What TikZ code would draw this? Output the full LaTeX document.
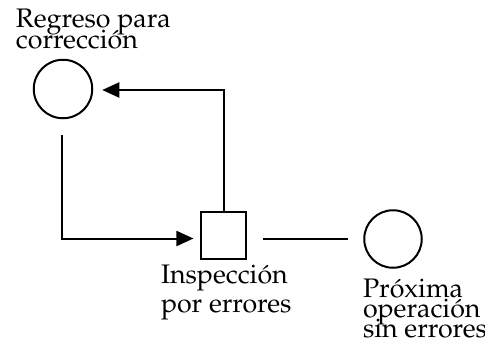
\documentclass[tikz,border=0pt]{standalone}
\IfFileExists{mathpazo.sty}{%
  \usepackage[T1]{fontenc}\usepackage{mathpazo}\newcommand{\tamrot}{26.8}}{%
  \usepackage{fontspec}\setmainfont{Liberation Serif}\newcommand{\tamrot}{28.6}}
\usetikzlibrary{arrows.meta}

\begin{document}
\begin{tikzpicture}[x=1pt, y=-1pt, line width=2pt,
  flujo/.style={-{Triangle[length=17pt,width=15pt]}},
  op/.style={circle, draw, minimum size=58.5pt, inner sep=0pt},
  inspec/.style={rectangle, draw, minimum width=44.5pt, minimum height=47.5pt, inner sep=0pt},
  rotulo/.style={anchor=base west, inner sep=0pt}]
\useasboundingbox (0,0) rectangle (485,343);
\node[op] (regreso) at (63,89) {};
\node[inspec] (inspeccion) at (223.7,235.5) {};
\node[op, minimum size=57.5pt] (proxima) at (393,239) {};
% rotulos
\node[rotulo, font={\fontsize{\tamrot}{21}\selectfont\lineskiplimit-50pt}] (tregreso) at (15,27)
  {\vtop{\hbox{Regreso para}\hbox{correcci\'on}}};
\node[rotulo, font={\fontsize{\tamrot}{29}\selectfont\lineskiplimit-50pt}] (tinspeccion) at (160,283)
  {\vtop{\hbox{Inspecci\'on}\hbox{por errores}}};
\node[rotulo, font={\fontsize{\tamrot}{20}\selectfont\lineskiplimit-50pt}] (tproxima) at (362,297)
  {\vtop{\hbox{Pr\'oxima}\hbox{operaci\'on}\hbox{sin errores}}};
% flechas
\draw[flujo, shorten >=9pt] (inspeccion.north) |- ([yshift=-1pt]regreso.east);
\draw[flujo, shorten <=16pt, shorten >=7pt] ([xshift=-1pt]regreso.south) |- ([yshift=-3pt]inspeccion.west);
\draw[shorten <=16.5pt, shorten >=15pt] ([yshift=-3pt]inspeccion.east) -- ([yshift=0.5pt]proxima.west);
\end{tikzpicture}
\end{document}
